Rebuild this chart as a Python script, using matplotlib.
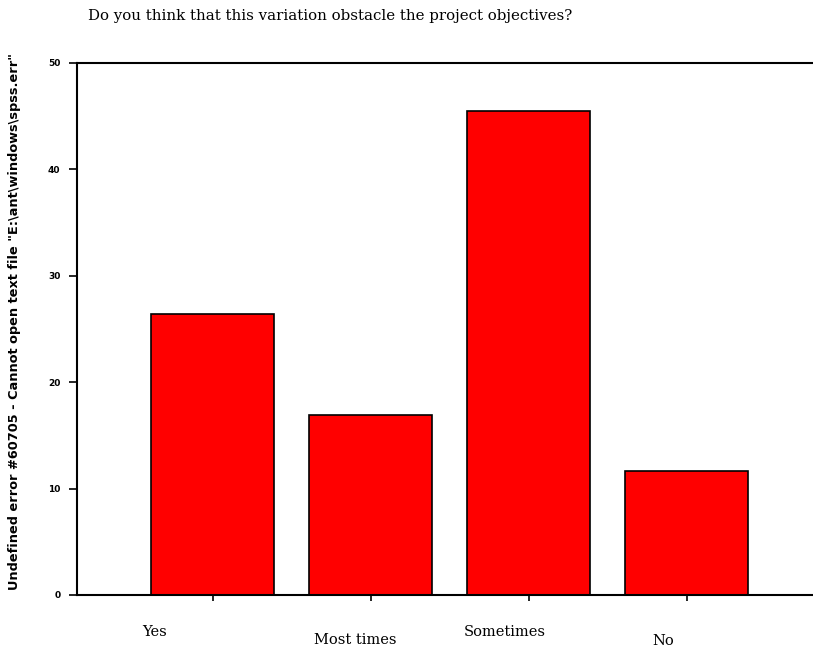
import matplotlib.pyplot as plt

# survey answers and percentages
categories = ['Yes', 'Most times', 'Sometimes', 'No']
percent = [26.4, 16.9, 45.5, 11.7]
y_ticks = [0, 10, 20, 30, 40, 50]

title = 'Do you think that this variation obstacle the project objectives?'
y_label = 'Undefined error #60705 - Cannot open text file "E:\\ant\\windows\\spss.err"'

# staggered category labels (x shift in data units, y in pixels below axis)
label_dx = [-0.37, -0.1, -0.15, -0.15]
label_dy = [37, 45, 37, 46]

fig = plt.figure(figsize=(8.13, 6.5), dpi=100)
ax = fig.add_axes([77 / 813, 1 - 595 / 650, 1 - 77 / 813, (595 - 63) / 650])

xs = list(range(len(categories)))
ax.bar(xs, percent, width=0.78, color='#ff0000', edgecolor='black', linewidth=1.2)

ax.set_xlim(-0.858, 3.8)
ax.set_ylim(0, 50)
ax.spines['right'].set_visible(False)
for s in ['left', 'top', 'bottom']:
    ax.spines[s].set_linewidth(1.5)

ax.set_yticks(y_ticks)
ax.set_yticklabels([str(t) for t in y_ticks], fontsize=6.5, fontweight='bold',
                   family='DejaVu Sans')
ax.tick_params(axis='y', length=6, width=1.2, pad=6)
ax.set_xticks(xs)
ax.set_xticklabels([])
ax.tick_params(axis='x', length=4, width=1.2)

for x, lab, dx, dy in zip(xs, categories, label_dx, label_dy):
    ax.annotate(lab, xy=(x + dx, 0), xytext=(0, -dy), textcoords='offset pixels',
                ha='center', va='center', fontsize=10.5, family='DejaVu Serif')

fig.text(330 / 813, 1 - 16 / 650, title, ha='center', va='center',
         fontsize=10.8, family='DejaVu Serif')
fig.text(15 / 813, 1 - 322 / 650, y_label, rotation=90, ha='center', va='center',
         fontsize=9.3, fontweight='bold', family='DejaVu Sans')

fig.savefig('out.png', dpi=100)
